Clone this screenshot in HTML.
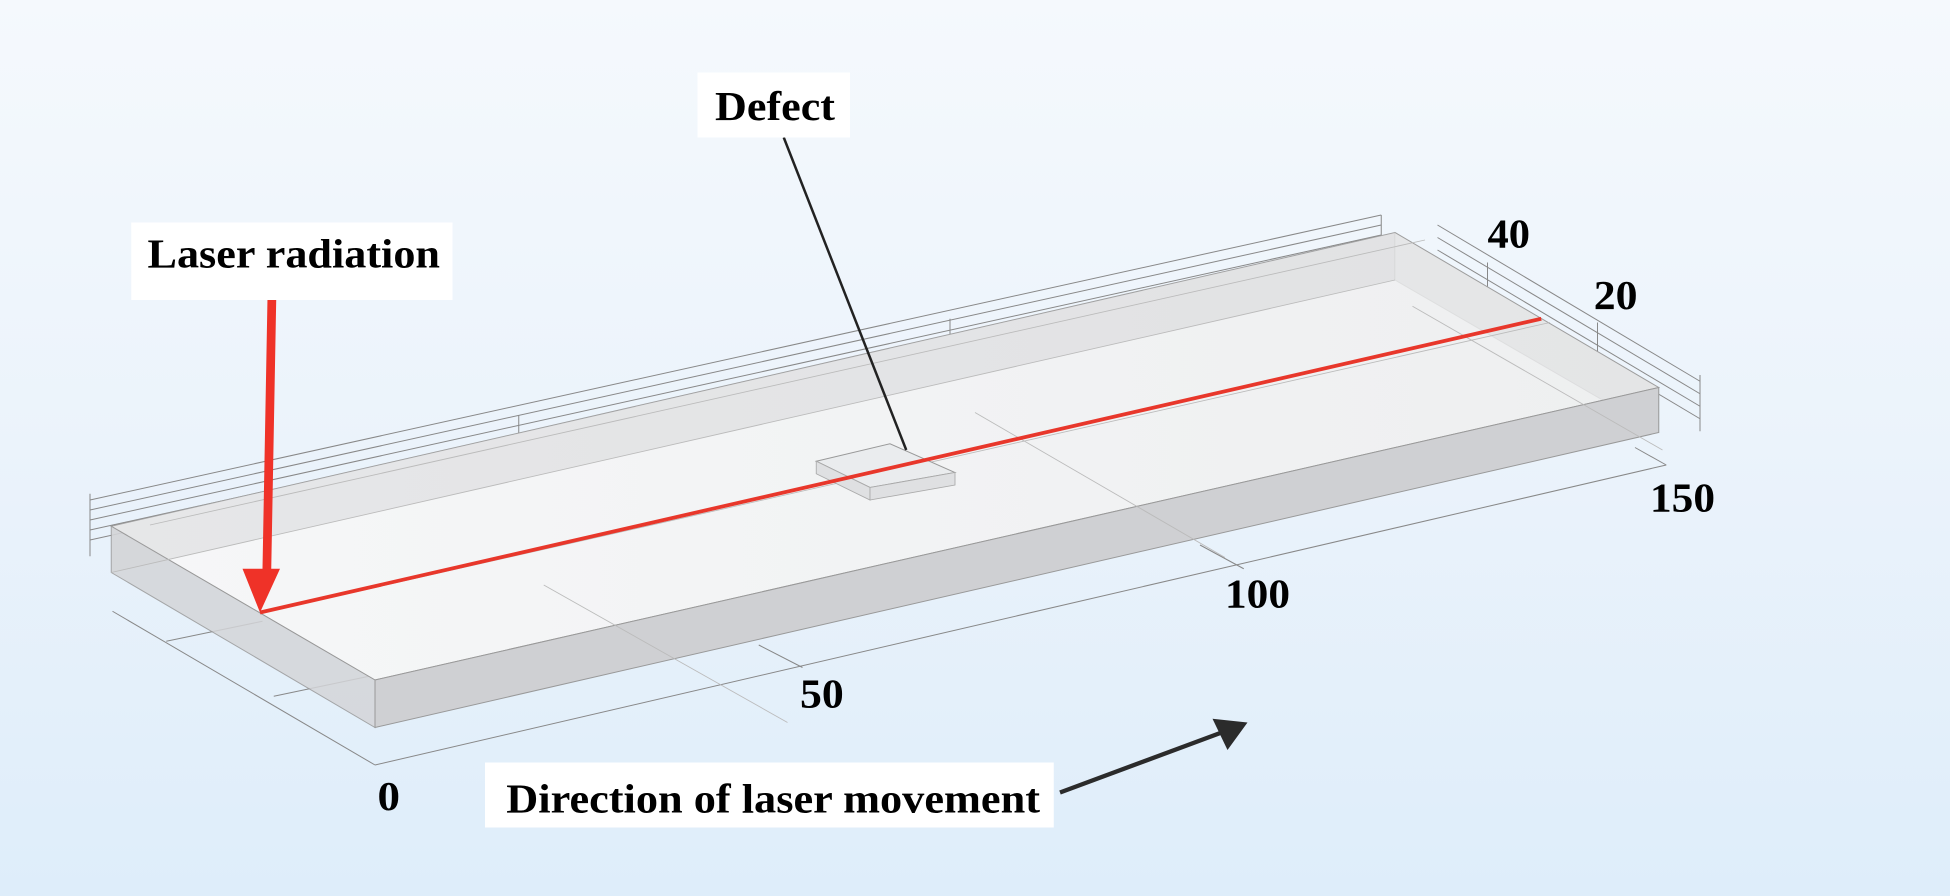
<!DOCTYPE html>
<html><head><meta charset="utf-8"><style>
html,body{margin:0;padding:0;width:1950px;height:896px;overflow:hidden}
body{background:linear-gradient(180deg,#f5f9fd 0%,#ebf3fb 50%,#deedfa 100%)}
svg{display:block}
text{font-family:"Liberation Serif",serif;font-weight:bold;fill:#000}
</style></head><body>
<svg width="1950" height="896" viewBox="0 0 1560 716.8" preserveAspectRatio="none">
<defs>
<linearGradient id="top" x1="0" y1="0" x2="1" y2="0"><stop offset="0" stop-color="#f6f7f8"/><stop offset="1" stop-color="#eeeff0"/></linearGradient>
</defs>
<g stroke="#888" stroke-width="0.8" fill="none">
<line x1="72" y1="400" x2="1105" y2="172"/>
<line x1="72" y1="408" x2="1105" y2="180"/>
<line x1="72" y1="416" x2="1105" y2="188"/>
<line x1="72" y1="424" x2="1105" y2="196"/>
<line x1="72" y1="432" x2="1105" y2="204"/>
<line x1="72" y1="395" x2="72" y2="445"/>
<line x1="1105" y1="172" x2="1105" y2="210"/>
<line x1="415" y1="332" x2="415" y2="366"/>
<line x1="760" y1="255" x2="760" y2="288"/>
<line x1="1150" y1="180" x2="1360" y2="305"/>
<line x1="1150" y1="190" x2="1360" y2="315"/>
<line x1="1150" y1="200" x2="1360" y2="325"/>
<line x1="1150" y1="210" x2="1360" y2="335"/>
<line x1="1360" y1="300" x2="1360" y2="345"/>
<line x1="1190" y1="210" x2="1190" y2="240"/>
<line x1="1278" y1="258" x2="1278" y2="292"/>
<line x1="90" y1="489" x2="300" y2="612"/>
<line x1="300" y1="612" x2="1333" y2="372"/>
<line x1="1333" y1="372" x2="1308" y2="358"/>
<line x1="219" y1="557" x2="300" y2="540"/>
<line x1="133" y1="513" x2="210" y2="497"/>
<line x1="607" y1="516" x2="642" y2="534"/>
<line x1="960" y1="436" x2="995" y2="455"/>
</g>
<polygon points="89,421 300,544 1327,310 1116,186" fill="url(#top)" stroke="#999" stroke-width="0.8"/>
<polygon points="89,421 1116,186 1116,224 89,458" fill="#c8c9cc" opacity="0.35"/>
<polygon points="1116,186 1327,310 1327,346 1116,224" fill="#c8c9cc" opacity="0.25" stroke="#aaa" stroke-width="0.8"/>
<polygon points="89,421 300,544 300,582 89,458" fill="#d4d5d8" opacity="0.85" stroke="#999" stroke-width="0.8"/>
<polygon points="300,544 1327,310 1327,346 300,582" fill="#cfd0d3" stroke="#999" stroke-width="0.8"/>
<g stroke="#bbb" stroke-width="0.7" fill="none">
<line x1="89" y1="458" x2="1116" y2="224"/>
<line x1="120" y1="420" x2="1140" y2="192"/>
<line x1="435" y1="468" x2="630" y2="578"/>
<line x1="780" y1="330" x2="980" y2="446"/>
<line x1="1130" y1="245" x2="1330" y2="360"/>
<line x1="220" y1="488" x2="1240" y2="258"/>
</g>
<polygon points="653,369 712,355 764,378 696,390" fill="#eaecee" stroke="#999" stroke-width="0.8"/>
<polygon points="653,369 696,390 696,400 653,379" fill="#dfe0e2" stroke="#aaa" stroke-width="0.7"/>
<polygon points="696,390 764,378 764,388 696,400" fill="#dfe0e2" stroke="#aaa" stroke-width="0.7"/>
<line x1="208" y1="490" x2="1233" y2="255" stroke="#e8372b" stroke-width="3"/>
<polygon points="214,238 221,238 217,455 224,455 208,490 194,455 210,455" fill="#ef3228"/>
<line x1="627" y1="110" x2="725" y2="360" stroke="#222" stroke-width="2"/>
<line x1="848" y1="634" x2="980" y2="585" stroke="#2b2b2b" stroke-width="3.5"/>
<polygon points="998,578 970,575 982,600" fill="#2b2b2b"/>
<rect x="105" y="178" width="257" height="62" fill="#fff"/>
<rect x="558" y="58" width="122" height="52" fill="#fff"/>
<rect x="388" y="610" width="455" height="52" fill="#fff"/>
<text x="118" y="214" font-size="33" textLength="234" lengthAdjust="spacingAndGlyphs">Laser radiation</text>
<text x="572" y="96" font-size="33" textLength="96" lengthAdjust="spacingAndGlyphs">Defect</text>
<text x="405" y="650" font-size="33" textLength="427" lengthAdjust="spacingAndGlyphs">Direction of laser movement</text>
<text x="302" y="648" font-size="33" textLength="18" lengthAdjust="spacingAndGlyphs">0</text>
<text x="640" y="566" font-size="33" textLength="35" lengthAdjust="spacingAndGlyphs">50</text>
<text x="980" y="486" font-size="33" textLength="52" lengthAdjust="spacingAndGlyphs">100</text>
<text x="1320" y="409" font-size="33" textLength="52" lengthAdjust="spacingAndGlyphs">150</text>
<text x="1190" y="198" font-size="33" textLength="34" lengthAdjust="spacingAndGlyphs">40</text>
<text x="1275" y="247" font-size="33" textLength="35" lengthAdjust="spacingAndGlyphs">20</text>
</svg>
</body></html>
